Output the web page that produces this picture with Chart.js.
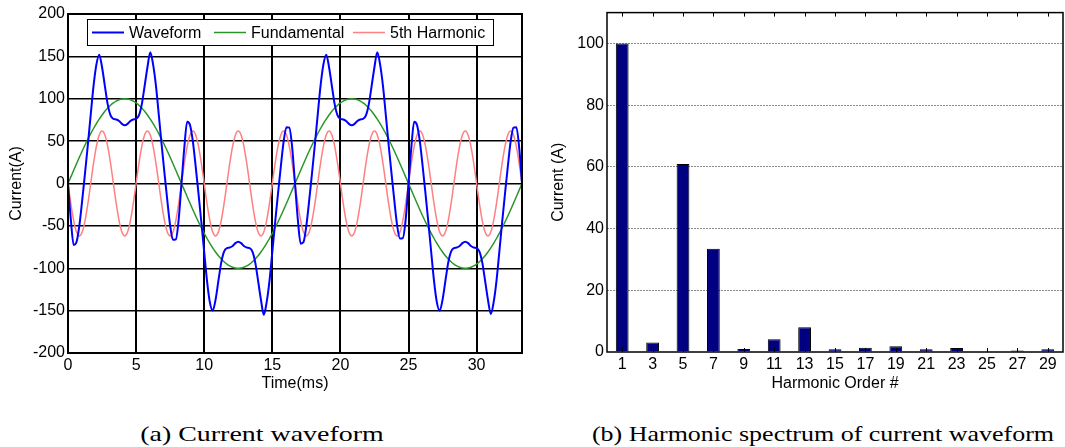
<!DOCTYPE html>
<html>
<head>
<meta charset="utf-8">
<script src="https://cdn.jsdelivr.net/npm/chart.js@4.4.0/dist/chart.umd.min.js"></script>
<style>
  body { margin: 0; background: #fff; }
  #wrap { position: relative; width: 1065px; height: 447px; overflow: hidden; }
  canvas { position: absolute; top: 0; }
  #waveCanvas { left: 0; }
  #specCanvas { left: 540px; }
  .caption {
    position: absolute; top: 421px; line-height: 24px;
    font: 22px 'Liberation Serif', 'Times New Roman', serif;
    color: #000; white-space: nowrap; transform-origin: center;
  }
  #capA { left: 262px; transform: translateX(-50%) scaleX(1.27); }
  #capB { left: 823px; transform: translateX(-50%) scaleX(1.18); }
</style>
</head>
<body>
<div id="wrap">
  <canvas id="waveCanvas" width="540" height="400"></canvas>
  <canvas id="specCanvas" width="525" height="400"></canvas>
  <div class="caption" id="capA">(a) Current waveform</div>
  <div class="caption" id="capB">(b) Harmonic spectrum of current waveform</div>
</div>
<script>
// two cycles of 60 Hz, 80 samples per cycle
const sampleStepMs = 16.6667 / 80;

const waveform = [
  0, -42.7, -72.5, -69.1, -49.7, -20.0, 12.3, 45.7, 80.9, 115.1, 140.2, 152.0, 137.2, 115.0, 93.3, 80.3, 76.2, 75.6, 73.8, 70.4, 68.7,
  70.4, 73.8, 75.6, 76.2, 80.3, 93.3, 115.0, 137.2, 155.0, 140.2, 115.1, 80.9, 45.7, 12.3, -20.0, -49.7, -66.5, -66.0, -42.7, 0,
  42.7, 73.0, 69.1, 49.7, 20.0, -12.3, -45.7, -80.9, -115.1, -140.2, -150.0, -137.2, -115.0, -93.3, -80.3, -76.2, -75.6, -73.8, -70.4, -68.7,
  -70.4, -73.8, -75.6, -76.2, -80.3, -93.3, -115.0, -137.2, -155.0, -140.2, -115.1, -80.9, -45.7, -12.3, 20.0, 49.7, 66.5, 66.0, 42.7, 0,
  -42.7, -71.0, -69.1, -49.7, -20.0, 12.3, 45.7, 80.9, 115.1, 140.2, 152.0, 137.2, 115.0, 93.3, 80.3, 76.2, 75.6, 73.8, 70.4, 68.7,
  70.4, 73.8, 75.6, 76.2, 80.3, 93.3, 115.0, 137.2, 155.0, 140.2, 115.1, 80.9, 45.7, 12.3, -20.0, -49.7, -65.0, -64.5, -42.7, 0,
  42.7, 73.0, 69.1, 49.7, 20.0, -12.3, -45.7, -80.9, -115.1, -140.2, -150.0, -137.2, -115.0, -93.3, -80.3, -76.2, -75.6, -73.8, -70.4, -68.7,
  -70.4, -73.8, -75.6, -76.2, -80.3, -93.3, -115.0, -137.2, -154.0, -140.2, -115.1, -80.9, -45.7, -12.3, 20.0, 49.7, 66.0, 66.5, 42.7, 0
];

const fundamental = [
  0, 7.8, 15.6, 23.3, 30.9, 38.3, 45.4, 52.2, 58.8, 64.9, 70.7, 76.0, 80.9, 85.3, 89.1, 92.4, 95.1, 97.2, 98.8, 99.7, 100,
  99.7, 98.8, 97.2, 95.1, 92.4, 89.1, 85.3, 80.9, 76.0, 70.7, 64.9, 58.8, 52.2, 45.4, 38.3, 30.9, 23.3, 15.6, 7.8, 0,
  -7.8, -15.6, -23.3, -30.9, -38.3, -45.4, -52.2, -58.8, -64.9, -70.7, -76.0, -80.9, -85.3, -89.1, -92.4, -95.1, -97.2, -98.8, -99.7, -100,
  -99.7, -98.8, -97.2, -95.1, -92.4, -89.1, -85.3, -80.9, -76.0, -70.7, -64.9, -58.8, -52.2, -45.4, -38.3, -30.9, -23.3, -15.6, -7.8, 0,
  7.8, 15.6, 23.3, 30.9, 38.3, 45.4, 52.2, 58.8, 64.9, 70.7, 76.0, 80.9, 85.3, 89.1, 92.4, 95.1, 97.2, 98.8, 99.7, 100,
  99.7, 98.8, 97.2, 95.1, 92.4, 89.1, 85.3, 80.9, 76.0, 70.7, 64.9, 58.8, 52.2, 45.4, 38.3, 30.9, 23.3, 15.6, 7.8, 0,
  -7.8, -15.6, -23.3, -30.9, -38.3, -45.4, -52.2, -58.8, -64.9, -70.7, -76.0, -80.9, -85.3, -89.1, -92.4, -95.1, -97.2, -98.8, -99.7, -100,
  -99.7, -98.8, -97.2, -95.1, -92.4, -89.1, -85.3, -80.9, -76.0, -70.7, -64.9, -58.8, -52.2, -45.4, -38.3, -30.9, -23.3, -15.6, -7.8, 0
];

const fifthHarmonic = [
  0, -23.7, -43.8, -57.3, -62, -57.3, -43.8, -23.7, 0, 23.7, 43.8, 57.3, 62, 57.3, 43.8, 23.7,
  0, -23.7, -43.8, -57.3, -62, -57.3, -43.8, -23.7, 0, 23.7, 43.8, 57.3, 62, 57.3, 43.8, 23.7,
  0, -23.7, -43.8, -57.3, -62, -57.3, -43.8, -23.7, 0, 23.7, 43.8, 57.3, 62, 57.3, 43.8, 23.7,
  0, -23.7, -43.8, -57.3, -62, -57.3, -43.8, -23.7, 0, 23.7, 43.8, 57.3, 62, 57.3, 43.8, 23.7,
  0, -23.7, -43.8, -57.3, -62, -57.3, -43.8, -23.7, 0, 23.7, 43.8, 57.3, 62, 57.3, 43.8, 23.7,
  0, -23.7, -43.8, -57.3, -62, -57.3, -43.8, -23.7, 0, 23.7, 43.8, 57.3, 62, 57.3, 43.8, 23.7,
  0, -23.7, -43.8, -57.3, -62, -57.3, -43.8, -23.7, 0, 23.7, 43.8, 57.3, 62, 57.3, 43.8, 23.7,
  0, -23.7, -43.8, -57.3, -62, -57.3, -43.8, -23.7, 0, 23.7, 43.8, 57.3, 62, 57.3, 43.8, 23.7,
  0, -23.7, -43.8, -57.3, -62, -57.3, -43.8, -23.7, 0, 23.7, 43.8, 57.3, 62, 57.3, 43.8, 23.7,
  0, -23.7, -43.8, -57.3, -62, -57.3, -43.8, -23.7, 0, 23.7, 43.8, 57.3, 62, 57.3, 43.8, 23.7,
  0
];

const harmonicOrders = ['1', '3', '5', '7', '9', '11', '13', '15', '17', '19', '21', '23', '25', '27', '29'];
const harmonicCurrent = [100, 3.1, 60.9, 33.5, 1.0, 4.1, 8.0, 0.9, 1.4, 1.9, 0.9, 1.3, 0.2, 0.5, 0.9];

const FONT = "'Liberation Sans', Arial, sans-serif";
Chart.defaults.font.family = FONT;
Chart.defaults.font.size = 16;
Chart.defaults.color = '#000';

const toPoints = arr => arr.map((v, i) => ({ x: i * sampleStepMs, y: v }));

// box around the plot area
const waveFrame = {
  id: 'waveFrame',
  afterDraw(chart) {
    const { ctx, chartArea: a } = chart;
    ctx.save();
    ctx.strokeStyle = '#000';
    ctx.lineWidth = 2;
    ctx.strokeRect(a.left, a.top, a.right - a.left, a.bottom - a.top);
    ctx.restore();
  }
};

// legend drawn inside the plot, top left
const waveLegend = {
  id: 'waveLegend',
  afterDraw(chart) {
    const { ctx, chartArea } = chart;
    const left = chartArea.left + 19, top = chartArea.top + 5;
    ctx.save();
    ctx.fillStyle = '#fff';
    ctx.fillRect(left, top, 406, 26);
    ctx.strokeStyle = '#000';
    ctx.lineWidth = 1;
    ctx.strokeRect(left + 0.5, top + 0.5, 406, 26);
    const offsets = [5, 127, 266];
    ctx.font = '16px ' + FONT;
    ctx.textBaseline = 'middle';
    chart.data.datasets.forEach((ds, i) => {
      const x = left + offsets[i], y = top + 13.5;
      ctx.strokeStyle = ds.borderColor;
      ctx.lineWidth = ds.borderWidth;
      ctx.beginPath();
      ctx.moveTo(x, y);
      ctx.lineTo(x + 32, y);
      ctx.stroke();
      ctx.fillStyle = '#000';
      ctx.fillText(ds.label, x + 37, y + 1);
    });
    ctx.restore();
  }
};

new Chart(document.getElementById('waveCanvas'), {
  type: 'line',
  data: {
    datasets: [
      { label: 'Waveform', data: toPoints(waveform), borderColor: '#0000ff', borderWidth: 2 },
      { label: 'Fundamental', data: toPoints(fundamental), borderColor: '#2a962a', borderWidth: 1.5 },
      { label: '5th Harmonic', data: toPoints(fifthHarmonic), borderColor: 'rgb(255,128,128)', borderWidth: 1.5 }
    ]
  },
  options: {
    responsive: false,
    animation: false,
    layout: { padding: { top: 14, right: 18, left: 0, bottom: 0 } },
    elements: { point: { radius: 0 }, line: { cubicInterpolationMode: 'monotone' } },
    plugins: { legend: { display: false }, tooltip: { enabled: false } },
    scales: {
      x: {
        type: 'linear', min: 0, max: 33.3333,
        ticks: { stepSize: 5, includeBounds: false, padding: 3, maxRotation: 0 },
        grid: { color: '#000', lineWidth: 2, drawTicks: false },
        border: { display: false },
        title: { display: true, text: 'Time(ms)', padding: { top: 0, bottom: 7 } },
        afterFit(axis) { axis.height = 47; }
      },
      y: {
        min: -200, max: 200,
        ticks: { stepSize: 50, padding: 3 },
        grid: { color: '#000', lineWidth: 1.5, drawTicks: false },
        border: { display: false },
        title: { display: true, text: 'Current(A)', padding: { top: 7, bottom: 0 } },
        afterFit(axis) { axis.width = 68; }
      }
    }
  },
  plugins: [waveFrame, waveLegend]
});

// axes box plus inward tick marks at each harmonic
const specFrame = {
  id: 'specFrame',
  afterDraw(chart) {
    const { ctx, chartArea: a, scales: { x } } = chart;
    ctx.save();
    ctx.strokeStyle = '#000';
    ctx.lineWidth = 1.5;
    ctx.strokeRect(a.left, a.top, a.right - a.left, a.bottom - a.top);
    ctx.lineWidth = 1;
    ctx.beginPath();
    x.ticks.forEach((_, i) => {
      const px = Math.round(x.getPixelForTick(i)) + 0.5;
      ctx.moveTo(px, a.bottom);
      ctx.lineTo(px, a.bottom - 4);
      ctx.moveTo(px, a.top);
      ctx.lineTo(px, a.top + 4);
    });
    ctx.stroke();
    ctx.restore();
  }
};

new Chart(document.getElementById('specCanvas'), {
  type: 'bar',
  data: {
    labels: harmonicOrders,
    datasets: [{
      label: 'Current (A)',
      data: harmonicCurrent,
      backgroundColor: '#000080',
      borderColor: '#000',
      borderWidth: 1,
      barPercentage: 0.42,
      categoryPercentage: 1.0
    }]
  },
  options: {
    responsive: false,
    animation: false,
    layout: { padding: { top: 11, right: 2, left: 0, bottom: 0 } },
    plugins: { legend: { display: false }, tooltip: { enabled: false } },
    scales: {
      x: {
        ticks: { padding: 3, maxRotation: 0, autoSkip: false },
        grid: { display: false, drawTicks: false },
        border: { display: false },
        title: { display: true, text: 'Harmonic Order #', padding: { top: 0, bottom: 7 } },
        afterFit(axis) { axis.height = 48; }
      },
      y: {
        min: 0, max: 110,
        ticks: { stepSize: 20, includeBounds: false, padding: 3 },
        grid: {
          color: ctx => ctx.tick && ctx.tick.value === 0 ? 'rgba(0,0,0,0)' : '#8a8a8a',
          lineWidth: 1, drawTicks: false
        },
        border: { display: false, dash: [2, 1] },
        title: { display: true, text: 'Current (A)', padding: { top: 9, bottom: 0 } },
        afterFit(axis) { axis.width = 67; }
      }
    }
  },
  plugins: [specFrame]
});
</script>
</body>
</html>
